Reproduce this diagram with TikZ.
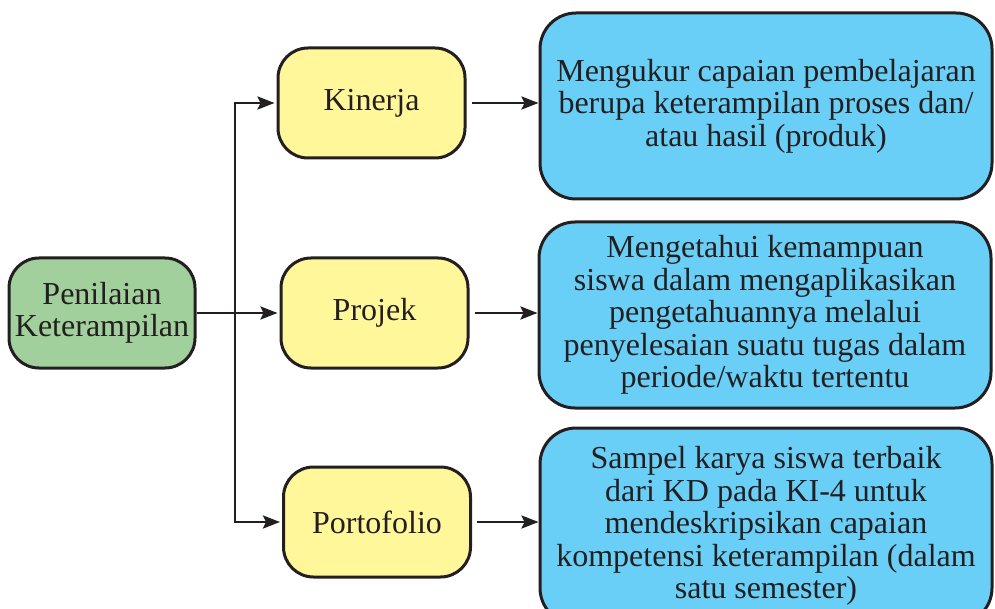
\documentclass[tikz,border=0pt]{standalone}
\usepackage{fontspec}
\setmainfont{Liberation Serif}
\usepackage{tikz}
\usetikzlibrary{arrows.meta}

\definecolor{hijau}{HTML}{A2D09C}
\definecolor{kuning}{HTML}{FFF799}
\definecolor{biru}{HTML}{69CFF6}
\definecolor{garis}{HTML}{231F20}

\begin{document}
\begin{tikzpicture}[x=1pt, y=-1pt,
    every node/.style={font=\fontsize{32}{32.5}\selectfont, text=garis},
    kotak/.style={draw=garis, line width=3pt, rounded corners=30pt, align=center, inner sep=0pt},
    pokok/.style={kotak, fill=hijau, minimum width=186pt, minimum height=110pt},
    jenis/.style={kotak, fill=kuning, minimum width=187pt, minimum height=110pt},
    uraian/.style={kotak, fill=biru, minimum width=452pt, minimum height=186pt, rounded corners=36pt},
    panah/.style={draw=garis, line width=2.6pt, -{Stealth[length=17pt,width=13pt,inset=3pt]}}]
\useasboundingbox (0,0) rectangle (995,609);

% Root node
\node[pokok] (nilai) at (102,313) {Penilaian\\Keterampilan};

% Assessment types
\node[jenis] (kinerja) at (371.5,103) {Kinerja};
\node[jenis] (projek) at (374.5,313) {Projek};
\node[jenis] (porto) at (377,522) {Portofolio};

% Descriptions
\node[uraian] (dkinerja) at (766,106) {Mengukur capaian pembelajaran\\berupa keterampilan proses dan/\\atau hasil (produk)};
\node[uraian] (dprojek) at (765,315) {Mengetahui kemampuan\\siswa dalam mengaplikasikan\\pengetahuannya melalui\\penyelesaian suatu tugas dalam\\periode/waktu tertentu};
\node[uraian, minimum height=196pt] (dporto) at (766,526) {Sampel karya siswa terbaik\\dari KD pada KI-4 untuk\\mendeskripsikan capaian\\kompetensi keterampilan (dalam\\satu semester)};

% Branch lines
\coordinate (cabang) at (235,313);
\draw[panah, shorten >=2pt] (nilai.east) -- (projek.west);
\draw[panah, shorten >=2pt] (cabang) |- (kinerja.west);
\draw[panah, shorten >=2pt] (cabang) |- (porto.west);

% Arrows to descriptions
\foreach \a/\b in {kinerja/dkinerja, projek/dprojek, porto/dporto} {
    \draw[panah, shorten <=5pt] (\a.east) -- (\a.east -| \b.west);
}
\end{tikzpicture}
\end{document}
